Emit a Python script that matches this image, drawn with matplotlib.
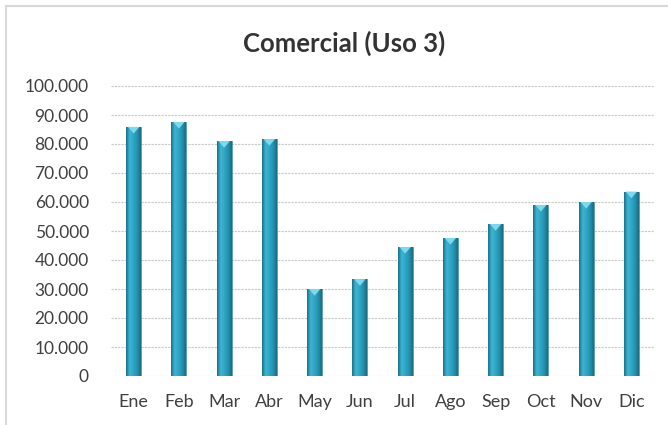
import matplotlib
matplotlib.use("Agg")
import matplotlib.pyplot as plt
import numpy as np
from matplotlib.patches import Rectangle, Polygon
from matplotlib.ticker import FuncFormatter, MultipleLocator
from matplotlib.colors import LinearSegmentedColormap

months = ["Ene", "Feb", "Mar", "Abr", "May", "Jun", "Jul", "Ago", "Sep", "Oct", "Nov", "Dic"]
values = [85900, 87600, 81000, 81700, 30000, 33400, 44500, 47600, 52400, 59000, 60000, 63600]
title = "Comercial (Uso 3)"

plt.rcParams['font.family'] = ['Lato', 'DejaVu Sans']

fig = plt.figure(figsize=(6.68, 4.25), dpi=100)
fig.patch.set_facecolor("white")

# outer chart border (top and left visible)
fig.add_artist(Rectangle((6/668, -0.1), 1.2, (425-6)/425 + 0.1, transform=fig.transFigure,
                         fill=False, edgecolor="#d9d9d9", linewidth=1.5))

ax = fig.add_axes([111/668, 49/425, (654-111)/668, (339-49)/425])
ax.set_facecolor("white")
x = np.arange(len(months))
width = 0.33
bars = ax.bar(x, values, width=width, color="#2a9fbd", zorder=3)

cmap = LinearSegmentedColormap.from_list("cyl", ["#1b7088", "#3cb6d3", "#2fa6c4", "#2593b0", "#1a6a80"])
grad = np.linspace(0, 1, 64).reshape(1, -1)
for b in bars:
    x0, w, h = b.get_x(), b.get_width(), b.get_height()
    im = ax.imshow(grad, cmap=cmap, aspect="auto", extent=(x0, x0 + w, 0, h), zorder=3)
    im.set_clip_path(b)
    b.set_facecolor("none")
    b.set_edgecolor("#1f7d94")
    b.set_linewidth(0.5)
    th = 2300
    tri = Polygon([(x0 + w*0.12, h), (x0 + w*0.88, h), (x0 + w*0.5, h - th)], closed=True,
                  facecolor="#7fd9ee", edgecolor="none", zorder=4)
    ax.add_patch(tri)

ax.set_xlim(-0.5, len(months) - 0.5)
ax.set_ylim(0, 100000)
ax.yaxis.set_major_locator(MultipleLocator(10000))
ax.yaxis.set_major_formatter(FuncFormatter(lambda v, p: f"{int(v):,}".replace(",", ".")))
ax.set_xticks(x)
ax.set_xticklabels(months)
ax.grid(axis="y", color="#c9c9c9", linestyle=(0, (2, 1)), linewidth=0.8, zorder=0)
for s in ax.spines.values():
    s.set_visible(False)
ax.tick_params(axis="both", length=0, labelcolor="#404040")
ax.tick_params(axis="y", pad=16, labelsize=12.5)
ax.tick_params(axis="x", pad=13, labelsize=13)

fig.text(344/668, 1 - 43/425, title, ha="center", va="center",
         fontsize=18.5, fontweight="bold", color="#333333")

fig.savefig("out.png", dpi=100)
